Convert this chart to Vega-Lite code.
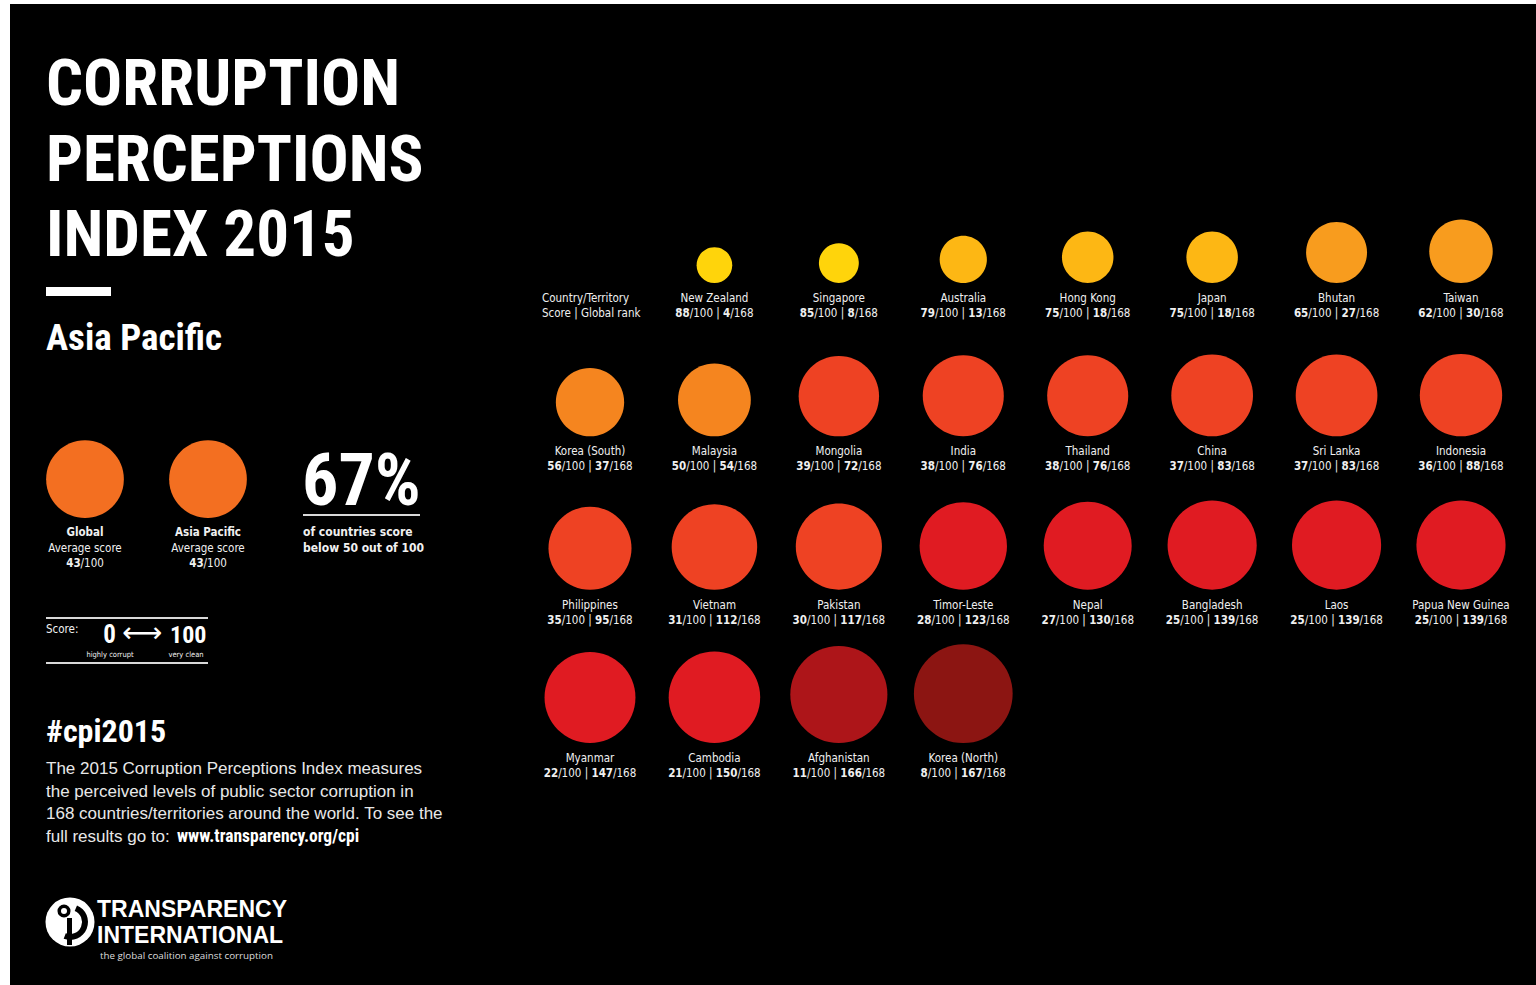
{
  "$schema": "https://vega.github.io/schema/vega-lite/v6.json",
  "width": 1536,
  "height": 985,
  "autosize": {"type": "fit", "contains": "padding"},
  "padding": {"left": 10, "top": 4, "right": 0, "bottom": 0},
  "background": "#ffffff",
  "config": {
    "view": {"stroke": null, "fill": "#000000"},
    "text": {"font": "DejaVu Sans Condensed", "fontSize": 11.5, "color": "#f0f0f0", "baseline": "alphabetic", "align": "left"}
  },
  "data": {
    "values": [
      {"country": "New Zealand", "score": 88, "rank": 4, "col": 1, "row": 0},
      {"country": "Singapore", "score": 85, "rank": 8, "col": 2, "row": 0},
      {"country": "Australia", "score": 79, "rank": 13, "col": 3, "row": 0},
      {"country": "Hong Kong", "score": 75, "rank": 18, "col": 4, "row": 0},
      {"country": "Japan", "score": 75, "rank": 18, "col": 5, "row": 0},
      {"country": "Bhutan", "score": 65, "rank": 27, "col": 6, "row": 0},
      {"country": "Taiwan", "score": 62, "rank": 30, "col": 7, "row": 0},
      {"country": "Korea (South)", "score": 56, "rank": 37, "col": 0, "row": 1},
      {"country": "Malaysia", "score": 50, "rank": 54, "col": 1, "row": 1},
      {"country": "Mongolia", "score": 39, "rank": 72, "col": 2, "row": 1},
      {"country": "India", "score": 38, "rank": 76, "col": 3, "row": 1},
      {"country": "Thailand", "score": 38, "rank": 76, "col": 4, "row": 1},
      {"country": "China", "score": 37, "rank": 83, "col": 5, "row": 1},
      {"country": "Sri Lanka", "score": 37, "rank": 83, "col": 6, "row": 1},
      {"country": "Indonesia", "score": 36, "rank": 88, "col": 7, "row": 1},
      {"country": "Philippines", "score": 35, "rank": 95, "col": 0, "row": 2},
      {"country": "Vietnam", "score": 31, "rank": 112, "col": 1, "row": 2},
      {"country": "Pakistan", "score": 30, "rank": 117, "col": 2, "row": 2},
      {"country": "Timor-Leste", "score": 28, "rank": 123, "col": 3, "row": 2},
      {"country": "Nepal", "score": 27, "rank": 130, "col": 4, "row": 2},
      {"country": "Bangladesh", "score": 25, "rank": 139, "col": 5, "row": 2},
      {"country": "Laos", "score": 25, "rank": 139, "col": 6, "row": 2},
      {"country": "Papua New Guinea", "score": 25, "rank": 139, "col": 7, "row": 2},
      {"country": "Myanmar", "score": 22, "rank": 147, "col": 0, "row": 3},
      {"country": "Cambodia", "score": 21, "rank": 150, "col": 1, "row": 3},
      {"country": "Afghanistan", "score": 11, "rank": 166, "col": 2, "row": 3},
      {"country": "Korea (North)", "score": 8, "rank": 167, "col": 3, "row": 3}
    ]
  },
  "layer": [
    {
      "data": {"values": [{}]},
      "mark": {"type": "text", "text": ["CORRUPTION", "PERCEPTIONS", "INDEX 2015"], "lineHeight": 75.5, "font": "Roboto Condensed", "fontWeight": "bold", "fontSize": 65, "color": "#ffffff"},
      "encoding": {"x": {"value": 36}, "y": {"value": 101}}
    },
    {
      "data": {"values": [{}]},
      "mark": {"type": "rect", "color": "#ffffff"},
      "encoding": {"x": {"value": 36}, "x2": {"value": 101}, "y": {"value": 283}, "y2": {"value": 292}}
    },
    {
      "data": {"values": [{}]},
      "mark": {"type": "text", "text": "Asia Pacific", "font": "Roboto Condensed", "fontWeight": "bold", "fontSize": 37, "color": "#ffffff"},
      "encoding": {"x": {"value": 36}, "y": {"value": 346}}
    },
    {
      "data": {"values": [{"label": "Global", "score": 43}]},
      "mark": {"type": "point", "shape": "M0,0A1,1,0,1,1,0,-2A1,1,0,1,1,0,0Z", "filled": true, "opacity": 1, "strokeWidth": 0},
      "encoding": {
        "x": {"value": 75}, "y": {"value": 514},
        "size": {"field": "score", "type": "quantitative", "scale": {"domain": [0, 100], "range": [10600, 0]}, "legend": null},
        "color": {"field": "score", "type": "quantitative", "scale": {"type": "threshold", "domain": [10, 20, 30, 40, 50, 60, 70, 80, 90], "range": ["#8c1512", "#ad1519", "#e01b22", "#ee4223", "#f36f21", "#f5851f", "#f89c1e", "#fdb714", "#ffd40b", "#ffe600"]}, "legend": null}
      }
    },
    {
      "data": {"values": [{"label": "Asia Pacific", "score": 43}]},
      "mark": {"type": "point", "shape": "M0,0A1,1,0,1,1,0,-2A1,1,0,1,1,0,0Z", "filled": true, "opacity": 1, "strokeWidth": 0},
      "encoding": {
        "x": {"value": 198}, "y": {"value": 514},
        "size": {"field": "score", "type": "quantitative", "scale": {"domain": [0, 100], "range": [10600, 0]}, "legend": null},
        "color": {"field": "score", "type": "quantitative", "scale": {"type": "threshold", "domain": [10, 20, 30, 40, 50, 60, 70, 80, 90], "range": ["#8c1512", "#ad1519", "#e01b22", "#ee4223", "#f36f21", "#f5851f", "#f89c1e", "#fdb714", "#ffd40b", "#ffe600"]}, "legend": null}
      }
    },
    {
      "data": {"values": [{}]},
      "mark": {"type": "text", "text": "Global", "fontWeight": "bold", "align": "center"},
      "encoding": {"x": {"value": 75}, "y": {"value": 532}}
    },
    {
      "data": {"values": [{}]},
      "mark": {"type": "text", "text": "Average score", "align": "center"},
      "encoding": {"x": {"value": 75}, "y": {"value": 548}}
    },
    {
      "data": {"values": [{}]},
      "mark": {"type": "text", "text": "43", "fontWeight": "bold", "align": "right"},
      "encoding": {"x": {"value": 70.6}, "y": {"value": 563}}
    },
    {
      "data": {"values": [{}]},
      "mark": {"type": "text", "text": "/100", "align": "left"},
      "encoding": {"x": {"value": 70.6}, "y": {"value": 563}}
    },
    {
      "data": {"values": [{}]},
      "mark": {"type": "text", "text": "Asia Pacific", "fontWeight": "bold", "align": "center"},
      "encoding": {"x": {"value": 198}, "y": {"value": 532}}
    },
    {
      "data": {"values": [{}]},
      "mark": {"type": "text", "text": "Average score", "align": "center"},
      "encoding": {"x": {"value": 198}, "y": {"value": 548}}
    },
    {
      "data": {"values": [{}]},
      "mark": {"type": "text", "text": "43", "fontWeight": "bold", "align": "right"},
      "encoding": {"x": {"value": 193.6}, "y": {"value": 563}}
    },
    {
      "data": {"values": [{}]},
      "mark": {"type": "text", "text": "/100", "align": "left"},
      "encoding": {"x": {"value": 193.6}, "y": {"value": 563}}
    },
    {
      "data": {"values": [{}]},
      "mark": {"type": "text", "text": "67%", "font": "Roboto Condensed", "fontWeight": "bold", "fontSize": 72, "color": "#ffffff"},
      "encoding": {"x": {"value": 292}, "y": {"value": 501}}
    },
    {
      "data": {"values": [{}]},
      "mark": {"type": "rule", "color": "#d9d9d9", "strokeWidth": 2},
      "encoding": {"x": {"value": 293}, "x2": {"value": 410}, "y": {"value": 511}}
    },
    {
      "data": {"values": [{}]},
      "mark": {"type": "text", "text": ["of countries score", "below 50 out of 100"], "lineHeight": 16, "fontWeight": "bold", "fontSize": 12},
      "encoding": {"x": {"value": 293}, "y": {"value": 532}}
    },
    {
      "data": {"values": [{}]},
      "mark": {"type": "rule", "color": "#d9d9d9", "strokeWidth": 2},
      "encoding": {"x": {"value": 36}, "x2": {"value": 198}, "y": {"value": 614}}
    },
    {
      "data": {"values": [{}]},
      "mark": {"type": "rule", "color": "#d9d9d9", "strokeWidth": 2},
      "encoding": {"x": {"value": 36}, "x2": {"value": 198}, "y": {"value": 659}}
    },
    {
      "data": {"values": [{}]},
      "mark": {"type": "text", "text": "Score:", "fontSize": 11.5},
      "encoding": {"x": {"value": 36}, "y": {"value": 629}}
    },
    {
      "data": {"values": [{}]},
      "mark": {"type": "text", "text": "0", "font": "Roboto Condensed", "fontWeight": "bold", "fontSize": 25, "align": "center", "color": "#ffffff"},
      "encoding": {"x": {"value": 99.5}, "y": {"value": 639}}
    },
    {
      "data": {"values": [{}]},
      "mark": {"type": "text", "text": "⟷", "font": "DejaVu Sans", "fontSize": 28, "align": "center", "baseline": "middle", "color": "#ffffff"},
      "encoding": {"x": {"value": 132}, "y": {"value": 630}}
    },
    {
      "data": {"values": [{}]},
      "mark": {"type": "text", "text": "100", "font": "Roboto Condensed", "fontWeight": "bold", "fontSize": 24, "color": "#ffffff"},
      "encoding": {"x": {"value": 160}, "y": {"value": 639}}
    },
    {
      "data": {"values": [{}]},
      "mark": {"type": "text", "text": "highly corrupt", "fontSize": 7.5, "align": "center"},
      "encoding": {"x": {"value": 100}, "y": {"value": 653}}
    },
    {
      "data": {"values": [{}]},
      "mark": {"type": "text", "text": "very clean", "fontSize": 7.5, "align": "center"},
      "encoding": {"x": {"value": 176}, "y": {"value": 653}}
    },
    {
      "data": {"values": [{}]},
      "mark": {"type": "text", "text": "#cpi2015", "font": "Roboto Condensed", "fontWeight": "bold", "fontSize": 32, "color": "#ffffff"},
      "encoding": {"x": {"value": 36}, "y": {"value": 738}}
    },
    {
      "data": {"values": [{}]},
      "mark": {"type": "text", "text": ["The 2015 Corruption Perceptions Index measures", "the perceived levels of public sector corruption in", "168 countries/territories around the world. To see the", "full results go to:"], "font": "Liberation Sans", "fontSize": 17, "lineHeight": 22.7, "color": "#e8e8e8"},
      "encoding": {"x": {"value": 36}, "y": {"value": 770}}
    },
    {
      "data": {"values": [{}]},
      "mark": {"type": "text", "text": "www.transparency.org/cpi", "font": "Roboto Condensed", "fontWeight": "bold", "fontSize": 17.5, "color": "#ffffff"},
      "encoding": {"x": {"value": 167}, "y": {"value": 838}}
    },
    {
      "data": {"values": [{}]},
      "mark": {"type": "point", "shape": "circle", "filled": true, "opacity": 1, "size": 2401, "color": "#ffffff", "strokeWidth": 0},
      "encoding": {"x": {"value": 60}, "y": {"value": 918}}
    },
    {
      "data": {"values": [{}]},
      "mark": {"type": "arc", "innerRadius": 12, "outerRadius": 18, "theta": 0.4, "theta2": 3.5, "color": "#000000"},
      "encoding": {"x": {"value": 60}, "y": {"value": 918}}
    },
    {
      "data": {"values": [{}]},
      "mark": {"type": "rect", "color": "#000000"},
      "encoding": {"x": {"value": 57}, "x2": {"value": 62}, "y": {"value": 914}, "y2": {"value": 941}}
    },
    {
      "data": {"values": [{}]},
      "mark": {"type": "point", "shape": "circle", "filled": true, "opacity": 1, "size": 170, "color": "#000000", "strokeWidth": 0},
      "encoding": {"x": {"value": 54}, "y": {"value": 907}}
    },
    {
      "data": {"values": [{}]},
      "mark": {"type": "point", "shape": "circle", "filled": true, "opacity": 1, "size": 36, "color": "#ffffff", "strokeWidth": 0},
      "encoding": {"x": {"value": 54}, "y": {"value": 907}}
    },
    {
      "data": {"values": [{}]},
      "mark": {"type": "text", "text": "TRANSPARENCY", "font": "Liberation Sans", "fontWeight": "bold", "fontSize": 23, "color": "#ffffff"},
      "encoding": {"x": {"value": 87}, "y": {"value": 913}}
    },
    {
      "data": {"values": [{}]},
      "mark": {"type": "text", "text": "INTERNATIONAL", "font": "Liberation Sans", "fontWeight": "bold", "fontSize": 23, "color": "#ffffff"},
      "encoding": {"x": {"value": 87}, "y": {"value": 939}}
    },
    {
      "data": {"values": [{}]},
      "mark": {"type": "text", "text": "the global coalition against corruption", "font": "Open Sans", "fontSize": 9.8, "color": "#dddddd"},
      "encoding": {"x": {"value": 90}, "y": {"value": 955}}
    },
    {
      "encoding": {
        "x": {"field": "col", "type": "quantitative", "scale": {"domain": [-4.6613, 7.6028], "nice": false, "zero": false}, "axis": null},
        "y": {"field": "row", "type": "quantitative", "scale": {"domain": [-1.8196, 4.5782], "reverse": true, "nice": false, "zero": false}, "axis": null}
      },
      "layer": [
        {
          "mark": {"type": "point", "shape": "M0,0A1,1,0,1,1,0,-2A1,1,0,1,1,0,0Z", "filled": true, "opacity": 1, "strokeWidth": 0},
          "encoding": {
            "size": {"field": "score", "type": "quantitative", "scale": {"domain": [0, 100], "range": [10600, 0]}, "legend": null},
            "color": {"field": "score", "type": "quantitative", "scale": {"type": "threshold", "domain": [10, 20, 30, 40, 50, 60, 70, 80, 90], "range": ["#8c1512", "#ad1519", "#e01b22", "#ee4223", "#f36f21", "#f5851f", "#f89c1e", "#fdb714", "#ffd40b", "#ffe600"]}, "legend": null}
          }
        },
        {
          "mark": {"type": "text", "align": "center", "dy": 19},
          "encoding": {"text": {"field": "country", "type": "nominal"}}
        },
        {
          "transform": [{"filter": "datum.rank < 10"}],
          "layer": [
            {"mark": {"type": "text", "align": "right", "dx": -24.67, "dy": 34, "fontWeight": "bold"}, "encoding": {"text": {"field": "score", "type": "nominal"}}},
            {"mark": {"type": "text", "align": "left", "dx": -24.67, "dy": 34, "text": "/100 |"}},
            {"mark": {"type": "text", "align": "left", "dx": 8.64, "dy": 34, "fontWeight": "bold"}, "encoding": {"text": {"field": "rank", "type": "nominal"}}},
            {"mark": {"type": "text", "align": "left", "dx": 15.84, "dy": 34, "text": "/168"}}
          ]
        },
        {
          "transform": [{"filter": "datum.rank >= 10 && datum.rank < 100"}],
          "layer": [
            {"mark": {"type": "text", "align": "right", "dx": -28.27, "dy": 34, "fontWeight": "bold"}, "encoding": {"text": {"field": "score", "type": "nominal"}}},
            {"mark": {"type": "text", "align": "left", "dx": -28.27, "dy": 34, "text": "/100 |"}},
            {"mark": {"type": "text", "align": "left", "dx": 5.04, "dy": 34, "fontWeight": "bold"}, "encoding": {"text": {"field": "rank", "type": "nominal"}}},
            {"mark": {"type": "text", "align": "left", "dx": 19.44, "dy": 34, "text": "/168"}}
          ]
        },
        {
          "transform": [{"filter": "datum.rank >= 100 && datum.score >= 10"}],
          "layer": [
            {"mark": {"type": "text", "align": "right", "dx": -31.87, "dy": 34, "fontWeight": "bold"}, "encoding": {"text": {"field": "score", "type": "nominal"}}},
            {"mark": {"type": "text", "align": "left", "dx": -31.87, "dy": 34, "text": "/100 |"}},
            {"mark": {"type": "text", "align": "left", "dx": 1.44, "dy": 34, "fontWeight": "bold"}, "encoding": {"text": {"field": "rank", "type": "nominal"}}},
            {"mark": {"type": "text", "align": "left", "dx": 23.04, "dy": 34, "text": "/168"}}
          ]
        },
        {
          "transform": [{"filter": "datum.score < 10"}],
          "layer": [
            {"mark": {"type": "text", "align": "right", "dx": -35.47, "dy": 34, "fontWeight": "bold"}, "encoding": {"text": {"field": "score", "type": "nominal"}}},
            {"mark": {"type": "text", "align": "left", "dx": -35.47, "dy": 34, "text": "/100 |"}},
            {"mark": {"type": "text", "align": "left", "dx": -2.16, "dy": 34, "fontWeight": "bold"}, "encoding": {"text": {"field": "rank", "type": "nominal"}}},
            {"mark": {"type": "text", "align": "left", "dx": 19.44, "dy": 34, "text": "/168"}}
          ]
        }
      ]
    },
    {
      "data": {"values": [{}]},
      "mark": {"type": "text", "text": ["Country/Territory", "Score | Global rank"], "lineHeight": 15, "dx": -48, "dy": 19},
      "encoding": {
        "x": {"datum": 0, "type": "quantitative", "scale": {"domain": [-4.6613, 7.6028], "nice": false, "zero": false}, "axis": null},
        "y": {"datum": 0, "type": "quantitative", "scale": {"domain": [-1.8196, 4.5782], "reverse": true, "nice": false, "zero": false}, "axis": null}
      }
    }
  ]
}
